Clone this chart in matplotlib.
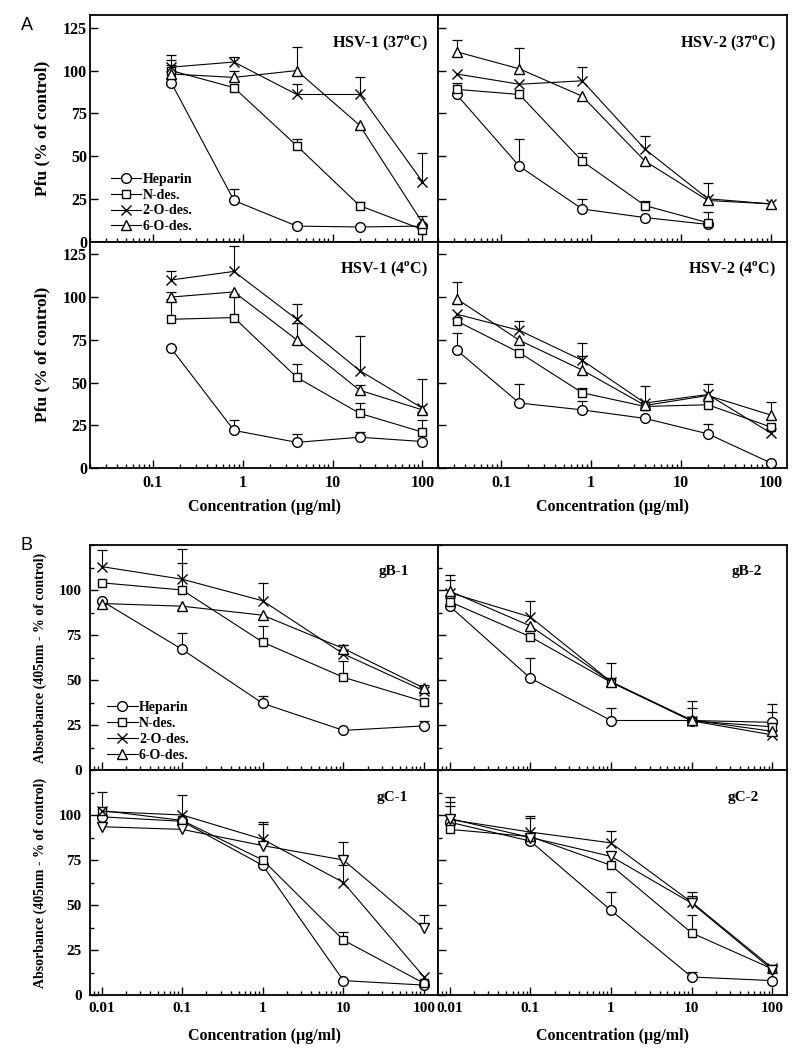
import numpy as np
import matplotlib
matplotlib.use('Agg')
import matplotlib.pyplot as plt
from matplotlib.ticker import FixedLocator, FuncFormatter, NullFormatter, LogLocator, MultipleLocator

plt.rcParams['font.family'] = 'Liberation Serif'
plt.rcParams['font.weight'] = 'bold'
plt.rcParams['axes.labelweight'] = 'bold'
plt.rcParams['mathtext.fontset'] = 'custom'
plt.rcParams['mathtext.rm'] = 'Liberation Serif:bold'
plt.rcParams['mathtext.bf'] = 'Liberation Serif:bold'

names = ['Heparin', 'N-des.', '2-O-des.', '6-O-des.']

# ---- panel A : plaque assay ----
xA1 = [0.16, 0.8, 4, 20, 100]
xA2 = [0.032, 0.16, 0.8, 4, 20, 100]

hsv1_37 = [[93, 24, 9, 8.5, 9],
           [100, 90, 56, 21, 7],
           [102, 105, 86, 86, 35],
           [98, 96, 100, 68, 11]]
hsv1_37_err = [[0, 6.5, 2, 0, 0],
               [3, 0, 4, 2, 3],
               [7, 3, 6, 10, 17],
               [8, 4, 14, 0, 4]]

hsv2_37 = [[86, 44, 19, 14, 10, np.nan],
           [89, 86, 47, 21, 11, np.nan],
           [98, 92, 94, 54, 25, 22],
           [111, 101, 85, 47, 24, 22]]
hsv2_37_err = [[0, 16, 6, 0, 0, 0],
               [4, 0, 5, 2.5, 6, 0],
               [0, 0, 8, 8, 9, 0],
               [7, 12, 0, 0, 0, 0]]

hsv1_4 = [[70, 22, 15, 18, 15.5],
          [87, 88, 53, 32, 21],
          [110, 115, 87, 57, 35],
          [100, 103, 75, 45.5, 34]]
hsv1_4_err = [[0, 6, 5, 3, 0],
              [12, 14, 8, 6, 7],
              [5, 15, 9, 20, 17],
              [3, 0, 10, 3, 0]]

hsv2_4 = [[69, 38, 34, 29, 20, 3],
          [86, 67.5, 44, 36, 37, 24],
          [90, 80.5, 63, 38, 43, 20.5],
          [99, 74.7, 57.3, 36.6, 42.4, 31]]
hsv2_4_err = [[10, 11, 5, 0, 6, 0],
              [0, 0, 3, 0, 0, 0],
              [0, 5.5, 10, 10, 6, 0],
              [10, 0, 8, 0, 0, 7.5]]

# ---- panel B : ELISA ----
xB = [0.01, 0.1, 1, 10, 100]

gB1 = [[94, 67, 37, 22, 24.5],
       [104, 100, 71, 51.5, 38],
       [113, 106, 94, 64.5, 44],
       [92.5, 91, 86, 67.5, 45.5]]
gB1_err = [[0, 9, 4, 0, 2.5],
           [0, 15, 9, 9, 0],
           [9, 17, 10, 5, 0],
           [0, 0, 0, 2, 1.5]]

gB2 = [[91, 51, 27.5, 27.5, 26.5],
       [93.5, 74, 48.7, 27.3, 24],
       [98.5, 85, 49, 27.3, 19.5],
       [99.4, 80, 49, 27.7, 21.5]]
gB2_err = [[0, 11, 7, 0, 10],
           [0, 0, 0, 0, 0],
           [10, 9, 10.5, 11, 13],
           [6, 0, 0, 7, 0]]

gC1 = [[99, 96.5, 72, 8, 5.5],
       [102.5, 97, 75, 30.5, 6.5],
       [102, 100, 86.5, 62.5, 10],
       [93.5, 92, 83, 75, 37]]
gC1_err = [[0, 0, 0, 0, 0],
           [0, 0, 0, 4.5, 0],
           [11, 11, 9.5, 10, 0],
           [0, 0, 12, 10, 7.5]]

gC2 = [[96, 85.5, 47, 10, 8],
       [92, 88, 72, 34.5, 14.5],
       [97.5, 90.5, 84.5, 51.5, 15],
       [98, 87.5, 77, 51, 14]]
gC2_err = [[9, 0, 10.5, 3, 0],
           [0, 0, 0, 10, 0],
           [12.5, 9, 6.5, 5.5, 0],
           [9, 11, 0, 4, 0]]

mk_up = ['o', 's', 'x', '^']
mk_down = ['o', 's', 'x', 'v']
msize = {'o': 7, 's': 5.5, 'x': 7, '^': 7.5, 'v': 7.5}


def draw(ax, x, data, errs, markers):
    x = np.array(x, float)
    for y, e, m, lab in zip(data, errs, markers, names):
        y = np.array(y, float)
        e = np.array(e, float)
        ax.plot(x, y, color='k', lw=0.8, marker=m, ms=msize[m], mfc='white',
                mec='k', mew=1.0, label=lab, zorder=3)
        # one-sided (upper) error bars only
        sel = e > 0
        if sel.any():
            ax.vlines(x[sel], y[sel], y[sel] + e[sel], color='k', lw=0.8, zorder=2)
            ax.plot(x[sel], y[sel] + e[sel], ls='none', marker='_', ms=7,
                    mew=0.9, color='k', zorder=2)


def style(ax, xlim, ylim, xmajor, left, bottom, ypad, lsize, yminor=None):
    ax.set_xscale('log')
    ax.set_xlim(*xlim)
    ax.set_ylim(*ylim)
    ax.xaxis.set_major_locator(FixedLocator(xmajor))
    ax.xaxis.set_major_formatter(FuncFormatter(lambda v, p: '%g' % v))
    ax.xaxis.set_minor_locator(LogLocator(base=10, subs=np.arange(2, 10)))
    ax.xaxis.set_minor_formatter(NullFormatter())
    ax.yaxis.set_major_locator(MultipleLocator(25))
    if yminor:
        ax.yaxis.set_minor_locator(MultipleLocator(yminor))
    ax.tick_params(which='both', direction='in', top=False, right=False,
                   labelsize=lsize, width=1)
    ax.tick_params(which='major', length=6)
    ax.tick_params(which='minor', length=3)
    ax.tick_params(axis='x', pad=5, labelbottom=bottom)
    ax.tick_params(axis='y', pad=ypad, labelleft=left)
    for s in ax.spines.values():
        s.set_linewidth(1.3)


fig = plt.figure(figsize=(8, 10.56), dpi=100)
W, H = 800, 1056
cw = 348.25


def add(x0, y0, h):
    return fig.add_axes([x0 / W, 1 - (y0 + h) / H, cw / W, h / H])


# panel A
hA = 226.5
axA = [[add(90, 15, hA), add(90 + cw, 15, hA)],
       [add(90, 15 + hA, hA), add(90 + cw, 15 + hA, hA)]]
panelsA = [[(xA1, hsv1_37, hsv1_37_err, 'HSV-1 (37$^{\\rm o}$C)'),
            (xA2, hsv2_37, hsv2_37_err, 'HSV-2 (37$^{\\rm o}$C)')],
           [(xA1, hsv1_4, hsv1_4_err, 'HSV-1 (4$^{\\rm o}$C)'),
            (xA2, hsv2_4, hsv2_4_err, 'HSV-2 (4$^{\\rm o}$C)')]]
for r in range(2):
    for c in range(2):
        ax = axA[r][c]
        x, d, e, t = panelsA[r][c]
        draw(ax, x, d, e, mk_up)
        style(ax, (0.02, 150), (0, 132.5), [0.1, 1, 10, 100], c == 0, r == 1, 2, 11.5)
        ax.yaxis.set_major_locator(FixedLocator([0, 25, 50, 75, 100, 125]))
        ax.text(0.97, 0.875, t, transform=ax.transAxes, ha='right', va='center',
                fontsize=11.5)
        if c == 0:
            ax.set_ylabel('Pfu (% of control)', fontsize=12.5)
            ax.yaxis.set_label_coords(-0.113, 0.5)
        if r == 1:
            ax.set_xlabel('Concentration (\u00b5g/ml)', fontsize=11.5)
            ax.xaxis.set_label_coords(0.5, -0.137)

axA[0][0].legend(loc='lower left', bbox_to_anchor=(0.035, 0.0), frameon=False,
                 fontsize=10, handlelength=2.2, handletextpad=0.1,
                 labelspacing=0.2, borderaxespad=0.2)

# panel B
hB = 225
axB = [[add(90, 545, hB), add(90 + cw, 545, hB)],
       [add(90, 545 + hB, hB), add(90 + cw, 545 + hB, hB)]]
panelsB = [[(gB1, gB1_err, 'gB-1', mk_up, 0.915),
            (gB2, gB2_err, 'gB-2', mk_up, 0.93)],
           [(gC1, gC1_err, 'gC-1', mk_down, 0.912),
            (gC2, gC2_err, 'gC-2', mk_down, 0.92)]]
for r in range(2):
    for c in range(2):
        ax = axB[r][c]
        d, e, t, mks, tx = panelsB[r][c]
        draw(ax, xB, d, e, mks)
        style(ax, (0.0072, 150), (0, 125), [0.01, 0.1, 1, 10, 100], c == 0, r == 1, 6,
              11, yminor=12.5)
        ax.yaxis.set_major_locator(FixedLocator([0, 25, 50, 75, 100]))
        ax.text(tx, 0.88, t, transform=ax.transAxes, ha='right', va='center',
                fontsize=11)
        if c == 0:
            ax.set_ylabel('Absorbance (405nm - % of control)', fontsize=10)
            ax.yaxis.set_label_coords(-0.124, 0.5)
        if r == 1:
            ax.set_xlabel('Concentration (\u00b5g/ml)', fontsize=11.5)
            ax.xaxis.set_label_coords(0.5, -0.147)

axB[0][0].legend(loc='lower left', bbox_to_anchor=(0.025, 0.0), frameon=False,
                 fontsize=10, handlelength=2.2, handletextpad=0.1,
                 labelspacing=0.2, borderaxespad=0.2)

fig.text(27 / W, 1 - 25 / H, 'A', family='Liberation Sans', weight='normal',
         fontsize=13, ha='center', va='center')
fig.text(27 / W, 1 - 545 / H, 'B', family='Liberation Sans', weight='normal',
         fontsize=13, ha='center', va='center')

fig.savefig('out.png', dpi=100)
